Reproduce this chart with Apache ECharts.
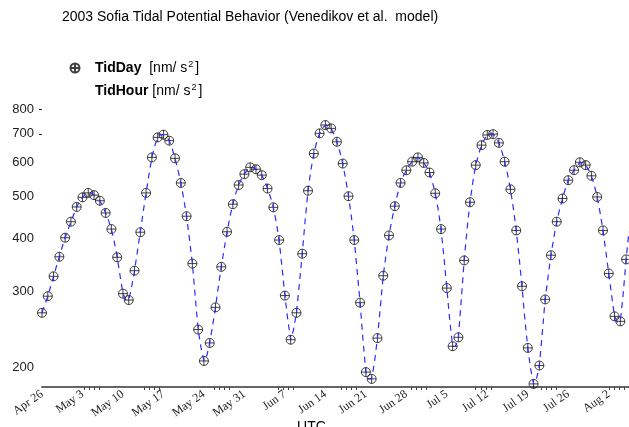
<!DOCTYPE html>
<html>
<head>
<meta charset="utf-8">
<script src="https://cdn.jsdelivr.net/npm/echarts@6/dist/echarts.min.js"></script>
<style>
  html, body { margin: 0; padding: 0; background: #fff; }
  #chart { width: 629px; height: 427px; }
</style>
</head>
<body>
<div id="chart"></div>
<script>
// days counted from 2003-04-26 00:00 UTC
const tidDay = [
  268, 293, 326, 362, 401, 437, 473, 498, 510, 504,
  489, 458, 420, 361, 297, 287, 336, 413, 510, 617,
  687, 697, 675, 614, 538, 450, 349, 245, 207, 228,
  276, 343, 414, 480, 532, 564, 585, 579, 561, 522,
  472, 396, 294, 232, 268, 368, 516, 630, 702, 734,
  721, 671, 597, 501, 396, 283, 195, 188, 234, 327,
  406, 475, 538, 576, 603, 617, 599, 569, 509, 420,
  306, 224, 235, 355, 485, 592, 659, 696, 699, 667,
  603, 520, 417, 309, 222, 183, 202, 288, 365, 437,
  495, 546, 576, 601, 592, 559, 499, 417, 331, 263,
  256, 357
]

// 12-hourly samples of the hourly model (00h, 12h, 00h, ...)
const tidHour = [
  268, 280, 293, 309, 326, 344, 362, 382, 401, 419,
  437, 455, 473, 487, 498, 506, 510, 509, 504, 498,
  489, 475, 458, 440, 420, 392, 361, 327, 297, 287,
  287, 308, 336, 373, 413, 461, 510, 563, 617, 656,
  687, 697, 697, 690, 675, 648, 614, 578, 538, 495,
  450, 398, 349, 292, 245, 222, 207, 213, 228, 250,
  276, 309, 343, 378, 414, 449, 480, 508, 532, 550,
  564, 577, 585, 584, 579, 572, 561, 544, 522, 499,
  472, 436, 396, 342, 294, 258, 232, 245, 268, 313,
  368, 440, 516, 577, 630, 670, 702, 722, 734, 731,
  721, 699, 671, 636, 597, 550, 501, 448, 396, 335,
  283, 232, 195, 188, 188, 206, 234, 276, 327, 367,
  406, 441, 475, 508, 538, 559, 576, 591, 603, 612,
  617, 610, 599, 586, 569, 541, 509, 467, 420, 361,
  306, 258, 224, 224, 235, 288, 355, 420, 485, 541,
  592, 628, 659, 680, 696, 700, 699, 686, 667, 638,
  603, 564, 520, 470, 417, 361, 309, 258, 222, 198,
  183, 188, 202, 240, 288, 325, 365, 401, 437, 467,
  495, 522, 546, 563, 576, 590, 601, 599, 592, 578,
  559, 531, 499, 459, 417, 372, 331, 294, 263, 255,
  256, 297, 357, 415
]
const hourStep = 0.5

const dateLabels = ['Apr 26', 'May 3', 'May 10', 'May 17', 'May 24', 'May 31', 'Jun 7', 'Jun 14',
  'Jun 21', 'Jun 28', 'Jul 5', 'Jul 12', 'Jul 19', 'Jul 26', 'Aug 2']
const labelDays = [0, 7, 14, 21, 28, 35, 42, 49, 56, 63, 70, 77, 84, 91, 98]

// little groups of minor ticks along the time axis
const tickGroupStarts = [7.3, 17.7, 29.8, 40.8, 51.7, 63.8, 75.0, 86.3, 98.1]

const yLabels = [200, 300, 400, 500, 600, 700, 800]
const yTicks = [700, 800]

const markerPath = 'path://M5,0 A5,5 0 1,1 5,10 A5,5 0 1,1 5,0 Z M5,0 L5,10 M0,5 L10,5'

const tickDays = []
tickGroupStarts.forEach(s => {
  for (let k = 0; k < 4; k++) tickDays.push(+(s + k * 0.87).toFixed(2))
})

const chart = echarts.init(document.getElementById('chart'))

chart.setOption({
  animation: false,
  backgroundColor: '#fff',
  textStyle: { fontFamily: 'Liberation Sans' },
  title: {
    text: '2003 Sofia Tidal Potential Behavior (Venedikov et al.  model)',
    left: 62,
    top: 10,
    padding: 0,
    textStyle: { fontSize: 14, fontWeight: 'normal', color: '#000', fontFamily: 'Liberation Sans' }
  },
  legend: {
    orient: 'vertical',
    left: 60,
    top: 60,
    padding: 0,
    itemWidth: 30,
    itemHeight: 9,
    itemGap: 7,
    data: [
      { name: 'TidDay', icon: markerPath },
      { name: 'TidHour', icon: 'rect', itemStyle: { opacity: 0 }, lineStyle: { opacity: 0 } }
    ],
    formatter: name => '{b|' + name + '}' + (name === 'TidDay' ? '  ' : ' ') + '[nm/ s{sup|2}]',
    textStyle: {
      fontSize: 14,
      color: '#000',
      lineHeight: 16,
      fontFamily: 'Liberation Sans',
      rich: {
        b: { fontWeight: 'bold', fontSize: 14, lineHeight: 16, fontFamily: 'Liberation Sans' },
        sup: { fontSize: 9, lineHeight: 16, verticalAlign: 'top', padding: [0, 2, 0, 1], fontFamily: 'Liberation Sans' }
      }
    }
  },
  grid: {
    left: 42,
    right: 0,
    top: 109,
    bottom: 40,
    containLabel: false,
    outerBoundsMode: 'none'
  },
  xAxis: {
    type: 'value',
    min: 0,
    max: 101.5,
    name: 'UTC',
    nameLocation: 'middle',
    nameGap: 33,
    nameMoveOverlap: false,
    nameTextStyle: { fontSize: 14, color: '#000', padding: [0, 48, 0, 0], fontFamily: 'Liberation Sans' },
    axisLine: { show: true, lineStyle: { color: '#666', width: 2 } },
    axisTick: { show: true, length: 3, customValues: tickDays, lineStyle: { color: '#444', width: 1 } },
    axisLabel: {
      customValues: labelDays,
      rotate: 35,
      margin: 6,
      fontSize: 12,
      color: '#222',
      fontFamily: 'Liberation Serif',
      formatter: v => dateLabels[labelDays.indexOf(Math.round(v))] || ''
    },
    splitLine: { show: false }
  },
  yAxis: {
    type: 'log',
    logBase: 10,
    min: 180,
    max: 800,
    axisLine: { show: false },
    axisTick: { show: true, length: 3, customValues: yTicks, lineStyle: { color: '#222' } },
    axisLabel: {
      customValues: yLabels,
      margin: 8,
      fontSize: 13,
      color: '#222',
      fontFamily: 'Liberation Sans',
      formatter: v => String(Math.round(v))
    },
    splitLine: { show: false }
  },
  series: [
    {
      name: 'TidDay',
      type: 'scatter',
      symbol: markerPath,
      symbolSize: 9,
      itemStyle: { color: 'rgba(0,0,0,0)', borderColor: '#111', borderWidth: 1 },
      data: tidDay.map((v, i) => [i, v])
    },
    {
      name: 'TidHour',
      type: 'line',
      symbol: 'none',
      showSymbol: false,
      itemStyle: { color: '#2b2bff' },
      lineStyle: { color: '#2b2bff', width: 1.2, type: [6, 5] },
      data: tidHour.map((v, i) => [i * hourStep, v])
    }
  ]
})
</script>
</body>
</html>
